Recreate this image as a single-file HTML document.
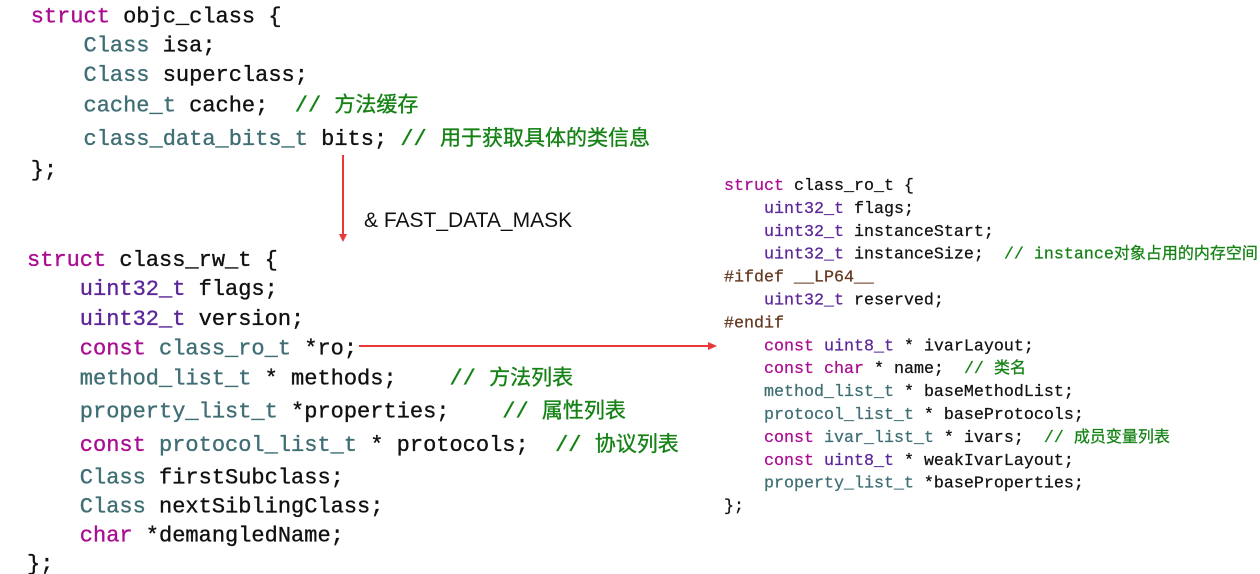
<!DOCTYPE html>
<html>
<head>
<meta charset="utf-8">
<style>
html,body{margin:0;padding:0;background:#fff;}
svg{display:block;}
text{white-space:pre;}
.m{font-family:"Liberation Mono","Noto Sans CJK SC",monospace;fill:#111;stroke:#111;}
.b1{font-size:22px;stroke-width:0.35px;}
.b3{font-size:16.67px;stroke-width:0.25px;}
.k{fill:#AA0D91;stroke:#AA0D91;}
.t{fill:#3F6E74;stroke:#3F6E74;}
.p{fill:#5C2699;stroke:#5C2699;}
.c{fill:#168216;stroke:#168216;}
.pp{fill:#643820;stroke:#643820;}
.cj1{font-family:"Noto Sans CJK SC","WenQuanYi Zen Hei",sans-serif;font-size:21px;}
.cj3{font-family:"Noto Sans CJK SC","WenQuanYi Zen Hei",sans-serif;font-size:16px;}
</style>
</head>
<body>
<svg width="1260" height="574" viewBox="0 0 1260 574" xmlns="http://www.w3.org/2000/svg" xml:space="preserve">
<rect width="1260" height="574" fill="#fff"/>

<!-- Block 1: objc_class -->
<g class="m b1">
<text x="30.7" y="22.7"><tspan class="k">struct</tspan> objc_class {</text>
<text x="83.5" y="51.7"><tspan class="t">Class</tspan> isa;</text>
<text x="83.5" y="81"><tspan class="t">Class</tspan> superclass;</text>
<text x="83.5" y="111.7"><tspan class="t">cache_t</tspan> cache;  <tspan class="c">// </tspan><tspan class="c cj1">方法缓存</tspan></text>
<text x="83.5" y="145"><tspan class="t">class_data_bits_t</tspan> bits; <tspan class="c">// </tspan><tspan class="c cj1">用于获取具体的类信息</tspan></text>
<text x="30.7" y="176">};</text>
</g>

<!-- vertical arrow -->
<line x1="343" y1="155" x2="343" y2="236" stroke="#E8383A" stroke-width="2"/>
<polygon points="339,234 347,234 343,242" fill="#E8383A"/>
<text x="364" y="227" style="font-family:'Liberation Sans',sans-serif;font-size:21px;fill:#111;">&amp; FAST_DATA_MASK</text>

<!-- Block 2: class_rw_t -->
<g class="m b1">
<text x="27" y="266"><tspan class="k">struct</tspan> class_rw_t {</text>
<text x="79.8" y="295"><tspan class="p">uint32_t</tspan> flags;</text>
<text x="79.8" y="325"><tspan class="p">uint32_t</tspan> version;</text>
<text x="79.8" y="354.3"><tspan class="k">const</tspan> <tspan class="t">class_ro_t</tspan> *ro;</text>
<text x="79.8" y="384.3"><tspan class="t">method_list_t</tspan> * methods;    <tspan class="c">// </tspan><tspan class="c cj1">方法列表</tspan></text>
<text x="79.8" y="417.7"><tspan class="t">property_list_t</tspan> *properties;    <tspan class="c">// </tspan><tspan class="c cj1">属性列表</tspan></text>
<text x="79.8" y="451"><tspan class="k">const</tspan> <tspan class="t">protocol_list_t</tspan> * protocols;  <tspan class="c">// </tspan><tspan class="c cj1">协议列表</tspan></text>
<text x="79.8" y="483.3"><tspan class="t">Class</tspan> firstSubclass;</text>
<text x="79.8" y="512.7"><tspan class="t">Class</tspan> nextSiblingClass;</text>
<text x="79.8" y="541.7"><tspan class="k">char</tspan> *demangledName;</text>
<text x="27" y="570">};</text>
</g>

<!-- horizontal arrow -->
<line x1="359" y1="346" x2="710" y2="346" stroke="#E8383A" stroke-width="2"/>
<polygon points="708,342 708,350 717,346" fill="#E8383A"/>

<!-- Block 3: class_ro_t -->
<g class="m b3">
<text x="724" y="190"><tspan class="k">struct</tspan> class_ro_t {</text>
<text x="764" y="212.9"><tspan class="p">uint32_t</tspan> flags;</text>
<text x="764" y="235.8"><tspan class="p">uint32_t</tspan> instanceStart;</text>
<text x="764" y="258.7"><tspan class="p">uint32_t</tspan> instanceSize;  <tspan class="c">// instance</tspan><tspan class="c cj3">对象占用的内存空间</tspan></text>
<text x="724" y="281.6"><tspan class="pp">#ifdef __LP64__</tspan></text>
<text x="764" y="304.5"><tspan class="p">uint32_t</tspan> reserved;</text>
<text x="724" y="327.4"><tspan class="pp">#endif</tspan></text>
<text x="764" y="350.3"><tspan class="k">const</tspan> <tspan class="p">uint8_t</tspan> * ivarLayout;</text>
<text x="764" y="373.2"><tspan class="k">const</tspan> <tspan class="k">char</tspan> * name;  <tspan class="c">// </tspan><tspan class="c cj3">类名</tspan></text>
<text x="764" y="396.1"><tspan class="t">method_list_t</tspan> * baseMethodList;</text>
<text x="764" y="419"><tspan class="t">protocol_list_t</tspan> * baseProtocols;</text>
<text x="764" y="441.9"><tspan class="k">const</tspan> <tspan class="t">ivar_list_t</tspan> * ivars;  <tspan class="c">// </tspan><tspan class="c cj3">成员变量列表</tspan></text>
<text x="764" y="464.8"><tspan class="k">const</tspan> <tspan class="p">uint8_t</tspan> * weakIvarLayout;</text>
<text x="764" y="487.7"><tspan class="t">property_list_t</tspan> *baseProperties;</text>
<text x="724" y="510.6">};</text>
</g>
</svg>
</body>
</html>
